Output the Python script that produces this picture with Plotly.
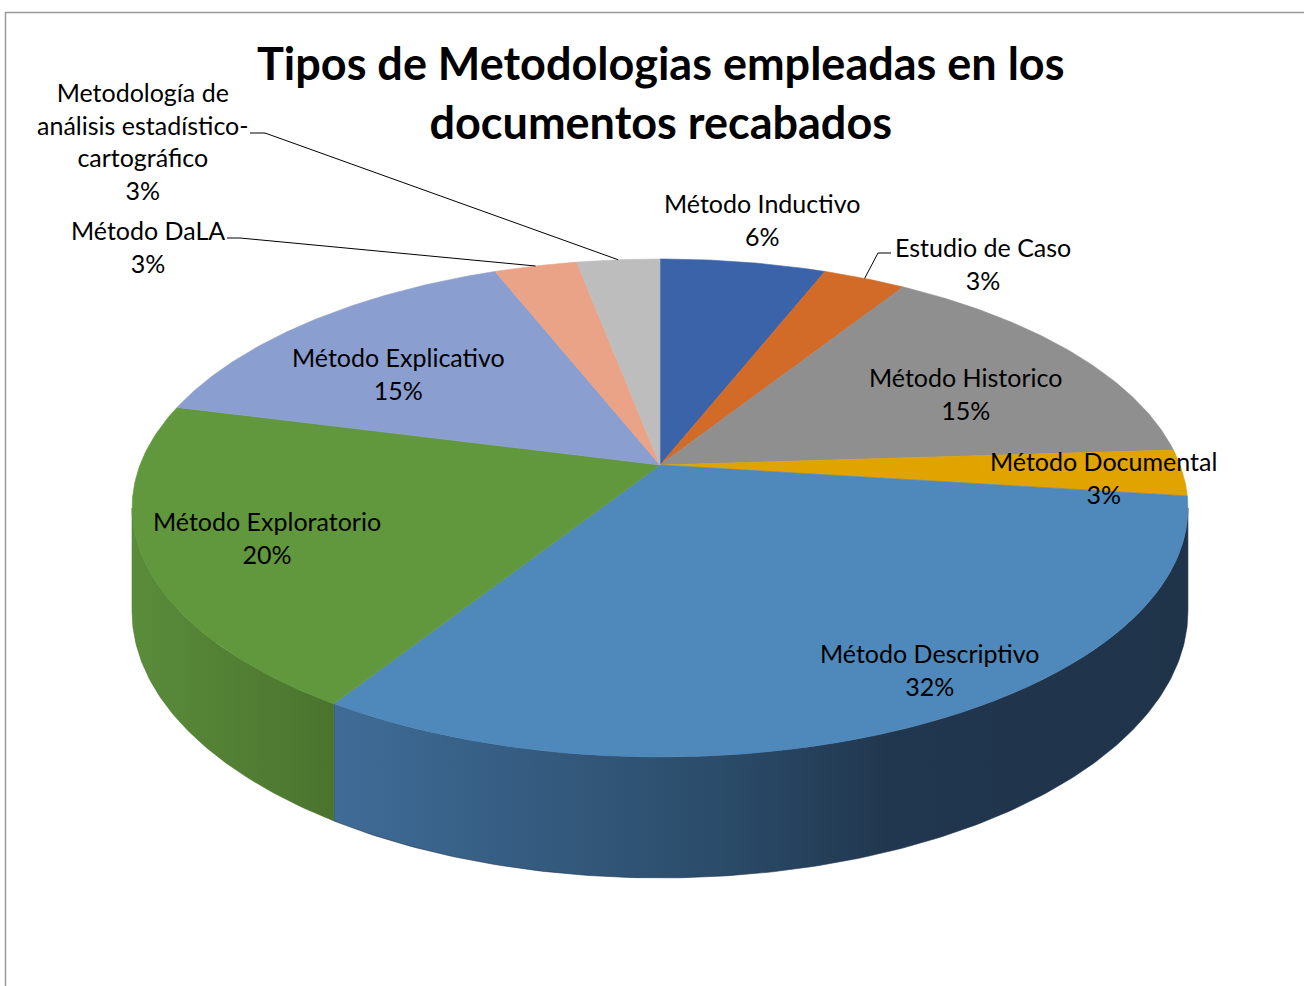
import numpy as np
import plotly.graph_objects as go

# ---------------- data ----------------
categories = [
    "Método Inductivo",
    "Estudio de Caso",
    "Método Historico",
    "Método Documental",
    "Método Descriptivo",
    "Método Exploratorio",
    "Método Explicativo",
    "Método DaLA",
    "Metodología de análisis estadístico-cartográfico",
]
label_text = [
    "Método Inductivo",
    "Estudio de Caso",
    "Método Historico",
    "Método Documental",
    "Método Descriptivo",
    "Método Exploratorio",
    "Método Explicativo",
    "Método DaLA",
    "Metodología de<br>análisis estadístico-<br>cartográfico",
]
percentages = [6, 3, 15, 3, 32, 20, 15, 3, 3]

top_colors = ["#3a63aa", "#d26a28", "#8f8f8f", "#e0a300", "#4f88bb",
              "#62983d", "#8b9ed0", "#eaa387", "#bdbdbd"]
wall_colors = [
    [[0, "#2b4a80"], [1, "#22396a"]],
    [[0, "#a6521d"], [1, "#8a4418"]],
    [[0, "#6f6f6f"], [1, "#5a5a5a"]],
    [[0, "#b07f00"], [1, "#8f6700"]],
    [[0, "#3f6c97"], [0.45, "#2b4c6a"], [0.65, "#21374f"], [1, "#1f3349"]],
    [[0, "#5a8c3a"], [1, "#4a742e"]],
    [[0, "#6d7ca3"], [1, "#5a6789"]],
    [[0, "#b8806a"], [1, "#9a6b58"]],
    [[0, "#959595"], [1, "#7c7c7c"]],
]
# label centres (x, y) in page pixels
label_pos = [(762, 219), (983, 263), (965, 393), (1103, 477), (929, 669),
             (267, 537), (398, 373), (148, 246), (143, 141)]
# leader line starting points for outside labels (None = no leader)
leader_start = [None, (891, 253), None, None, None, None, None, (227, 238), (250, 133)]
leader_knee = [None, (878, 253), None, None, None, None, None, (240, 238), (265, 133)]

# ---------------- geometry of the 3D pie ----------------
W, Hpx = 1304, 986
CX, CY = 660.0, 465.0
A, B, K, DEPTH = 520.0, 241.6, 0.1727, 100.0


def proj(theta, level):
    X = np.sin(theta)
    Z = -np.cos(theta)
    d = 1 - K * Z
    return CX + A * X / d, CY + (B * Z + DEPTH * level) / d


fig = go.Figure()
total = float(sum(percentages))
cum = np.concatenate([[0.0], np.cumsum(percentages)]) / total
starts = cum[:-1] * 2 * np.pi
ends = cum[1:] * 2 * np.pi

vis0 = np.arccos(-K)
vis1 = 2 * np.pi - vis0

# walls
for i in range(len(categories)):
    t1, t2 = max(starts[i], vis0), min(ends[i], vis1)
    if t2 <= t1:
        continue
    n = max(int((t2 - t1) / (2 * np.pi) * 600), 10)
    th = np.linspace(t1, t2, n)
    xt, yt = proj(th, 0)
    xb, yb = proj(th[::-1], 1)
    xs = np.concatenate([xt, xb, xt[:1]])
    ys = np.concatenate([yt, yb, yt[:1]])
    fig.add_trace(go.Scatter(
        x=xs, y=ys, mode="lines", fill="toself",
        line=dict(width=0.6, color=wall_colors[i][-1][1]),
        fillgradient=dict(type="horizontal", colorscale=wall_colors[i]),
        hoverinfo="skip", showlegend=False))

# tops
for i in range(len(categories)):
    n = max(int((ends[i] - starts[i]) / (2 * np.pi) * 600), 10)
    th = np.linspace(starts[i], ends[i], n)
    xt, yt = proj(th, 0)
    xs = np.concatenate([[CX], xt, [CX]])
    ys = np.concatenate([[CY], yt, [CY]])
    fig.add_trace(go.Scatter(
        x=xs, y=ys, mode="lines", fill="toself", fillcolor=top_colors[i],
        line=dict(width=0.6, color=top_colors[i]),
        name=categories[i], hoverinfo="name", showlegend=False))

# leader lines
for i in range(len(categories)):
    if leader_start[i] is None:
        continue
    mid = (starts[i] + ends[i]) / 2
    ex, ey = proj(mid, 0)
    fig.add_trace(go.Scatter(
        x=[leader_start[i][0], leader_knee[i][0], float(ex)],
        y=[leader_start[i][1], leader_knee[i][1], float(ey)],
        mode="lines", line=dict(color="black", width=1),
        hoverinfo="skip", showlegend=False))

FONT = "Lato"
for i in range(len(categories)):
    fig.add_annotation(
        x=label_pos[i][0], y=label_pos[i][1], xref="x", yref="y",
        text=f"{label_text[i]}<br>{percentages[i]}%", showarrow=False,
        xanchor="center", yanchor="middle", align="center",
        font=dict(family=FONT, size=25, color="black"))

fig.add_annotation(
    x=660, y=92, xref="x", yref="y",
    text="<b>Tipos de Metodologias empleadas en los<br>documentos recabados</b>",
    showarrow=False, xanchor="center", yanchor="middle", align="center",
    font=dict(family=FONT, size=45, color="black"))

# chart border
fig.add_shape(type="rect", xref="paper", yref="paper",
              x0=5.5 / W, x1=1.05, y0=-0.05, y1=1 - 12.5 / Hpx,
              line=dict(color="#9a9a9a", width=1.5))

fig.update_layout(
    width=W, height=Hpx, margin=dict(l=0, r=0, t=0, b=0),
    paper_bgcolor="white", plot_bgcolor="white",
    xaxis=dict(range=[0, W], visible=False, fixedrange=True),
    yaxis=dict(range=[Hpx, 0], visible=False, fixedrange=True),
)

fig.write_html("out.html", config={"displayModeBar": False},
               post_script="document.body.style.margin='0';")
